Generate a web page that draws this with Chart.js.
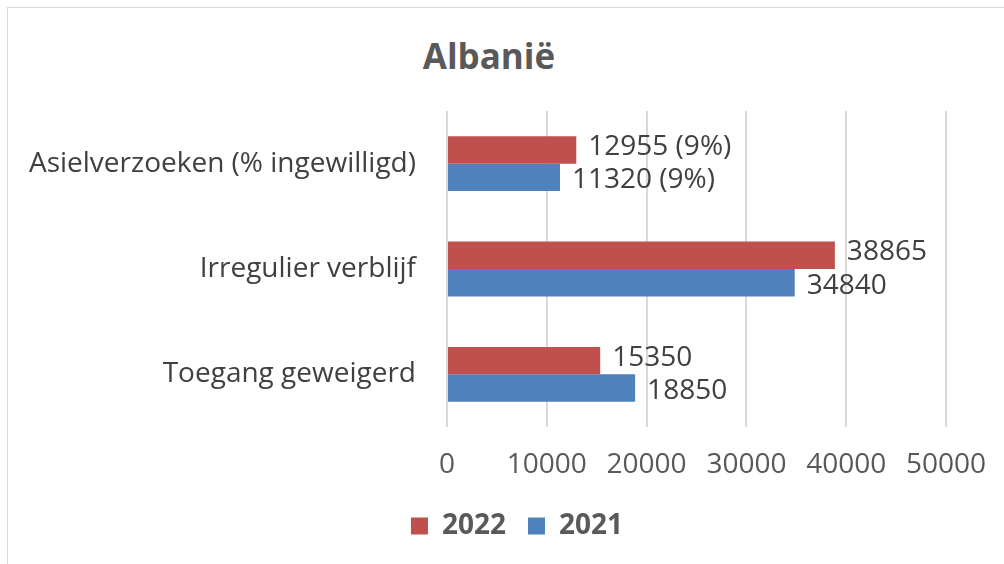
<!DOCTYPE html>
<html lang="nl">
<head>
<meta charset="UTF-8">
<title>Albanië</title>
<script src="https://cdn.jsdelivr.net/npm/chart.js"></script>
<style>
    html, body { margin: 0; padding: 0; background: #fff; overflow: hidden; width: 1004px; height: 564px; }
    .frame { position: absolute; left: 7px; top: 7px; width: 1100px; height: 700px; border: 1px solid #d9d9d9; }
    .title {
        position: absolute; left: 339px; width: 300px; top: 32px; text-align: center;
        font-family: 'Open Sans', sans-serif; font-weight: 700; font-size: 35px; color: #595959;
    }
    .wrap { position: absolute; left: 0; top: 0; width: 1034px; height: 564px; }
</style>
</head>
<body>
<div class="frame"></div>
<div class="title">Albanië</div>
<div class="wrap"><canvas id="chart"></canvas></div>

<script>
const categories = ['Asielverzoeken (% ingewilligd)', 'Irregulier verblijf', 'Toegang geweigerd'];
const values2022 = [12955, 38865, 15350];
const values2021 = [11320, 34840, 18850];
const suffix2022 = [' (9%)', '', ''];
const suffix2021 = [' (9%)', '', ''];
const xTicks = [0, 10000, 20000, 30000, 40000, 50000];

const FONT = "'Open Sans', sans-serif";

// labels next to the bar ends, nudged apart a little like Excel does
const valueLabels = {
    id: 'valueLabels',
    afterDatasetsDraw(chart) {
        const ctx = chart.ctx;
        ctx.save();
        ctx.font = `28px ${FONT}`;
        ctx.fillStyle = '#404040';
        ctx.textBaseline = 'middle';
        ctx.textAlign = 'left';
        chart.data.datasets.forEach((ds, i) => {
            const nudge = i === 0 ? -3 : 3;
            chart.getDatasetMeta(i).data.forEach((bar, j) => {
                ctx.fillText(ds.data[j] + ds.suffix[j], bar.x + 12, bar.y + nudge);
            });
        });
        ctx.restore();
    }
};

new Chart(document.getElementById('chart'), {
    type: 'bar',
    data: {
        labels: categories,
        datasets: [
            { label: '2022', data: values2022, suffix: suffix2022, backgroundColor: '#c0504d' },
            { label: '2021', data: values2021, suffix: suffix2021, backgroundColor: '#4f81bd' }
        ]
    },
    options: {
        indexAxis: 'y',
        responsive: true,
        maintainAspectRatio: false,
        animation: false,
        categoryPercentage: 0.52,
        barPercentage: 1,
        layout: { padding: { top: 111, bottom: 14, left: 0, right: 0 } },
        plugins: {
            legend: {
                position: 'bottom',
                labels: {
                    boxWidth: 17, boxHeight: 17, padding: 22,
                    color: '#595959',
                    font: { family: FONT, size: 28, weight: 'bold' }
                }
            },
            tooltip: { enabled: false }
        },
        scales: {
            x: {
                min: 0, max: 50000,
                afterBuildTicks: s => { s.ticks = xTicks.map(v => ({ value: v })); },
                afterFit: s => { s.height = 63; },
                grid: { color: '#d9d9d9', lineWidth: 2, drawTicks: false },
                border: { display: false },
                ticks: {
                    color: '#595959', padding: 21, font: { family: FONT, size: 28 },
                    callback: v => String(v)
                }
            },
            y: {
                afterFit: s => { s.width = 447; },
                grid: { display: false },
                border: { display: false },
                ticks: { color: '#404040', padding: 23, font: { family: FONT, size: 28 } }
            },
            spacer: {
                axis: 'y', type: 'linear', position: 'right', display: true,
                afterFit: s => { s.width = 88; },
                grid: { display: false }, border: { display: false },
                ticks: { display: false }
            }
        }
    },
    plugins: [valueLabels]
});
</script>
</body>
</html>
